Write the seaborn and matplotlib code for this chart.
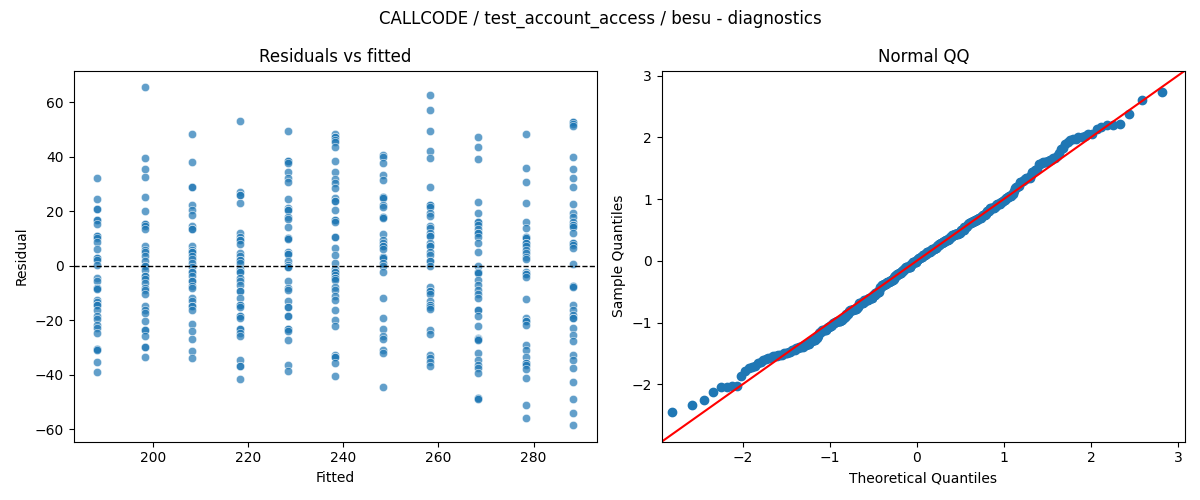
import statistics
import numpy as np
import pandas as pd
import seaborn as sns
import matplotlib
matplotlib.use("Agg")
import matplotlib.pyplot as plt

# fitted value of each group (one column of points per group)
fitted_levels = [188.3, 198.3, 208.3, 218.3, 228.3, 238.3, 248.3, 258.3, 268.3, 278.3, 288.3]

# residuals read per fitted group
res_188 = [32.1, 24.4, 20.7, 20.7, 16.8, 16.8, 15.4, 11.1, 11.1, 10.1, 8.7, 6.1, 2.8, 2.8, 2.2, 0.4,
           -4.5, -5.4, -8.2, -8.2, -8.5, -12.4, -13.3, -14.3, -14.3, -16.1, -18.5, -19.5, -21.6,
           -22.8, -24.6, -30.5, -30.5, -31.0, -35.2, -38.9]
res_198 = [65.4, 39.4, 35.4, 32.4, 25.1, 20.0, 15.4, 15.4, 14.6, 13.4, 7.1, 5.9, 4.9, 3.7, 1.6,
           -0.2, -0.2, -1.5, -3.9, -3.9, -4.9, -6.3, -8.2, -9.0, -10.2, -14.9, -16.1, -17.3,
           -20.4, -23.4, -23.4, -25.6, -29.9, -29.9, -33.4]
res_208 = [48.3, 37.9, 28.8, 28.8, 22.3, 20.5, 18.7, 14.6, 13.4, 13.4, 7.3, 5.9, 4.9, 4.9, 3.7,
           2.4, 1.0, -0.5, -2.1, -2.1, -3.9, -5.7, -5.7, -7.3, -8.2, -11.8, -13.0, -14.9, -14.9,
           -16.1, -21.2, -24.0, -26.8, -31.1, -33.8]
res_218 = [53.0, 27.2, 26.0, 26.0, 22.9, 12.0, 10.7, 9.5, 9.5, 8.0, 4.6, 3.7, 2.2, 2.2, 1.2,
           -1.2, -2.1, -2.1, -4.5, -5.7, -7.0, -9.4, -9.4, -11.8, -14.3, -14.3, -15.1, -18.5,
           -18.5, -19.1, -23.2, -23.2, -24.6, -25.6, -34.4, -36.8, -36.8, -41.5]
res_228 = [49.4, 38.4, 38.4, 37.8, 34.5, 32.1, 30.9, 24.4, 21.1, 20.5, 20.5, 18.0, 17.1, 14.4,
           10.1, 10.1, 9.8, 5.2, 4.4, 4.4, 1.6, 0.4, -0.5, -0.5, -5.4, -8.2, -8.8, -13.0, -15.1,
           -15.1, -18.5, -18.5, -23.2, -23.2, -24.0, -27.3, -36.2, -38.4]
res_238 = [48.3, 47.3, 47.3, 46.3, 45.5, 43.4, 38.4, 34.5, 31.7, 30.5, 28.4, 24.8, 23.9, 23.9,
           20.5, 16.8, 16.8, 15.9, 10.7, 10.7, 6.5, 4.0, 1.2, -1.2, -2.1, -2.1, -3.3, -4.5, -4.5,
           -5.1, -7.6, -8.8, -11.2, -12.4, -16.1, -19.8, -22.2, -32.6, -33.4, -33.4, -35.6, -40.5]
res_248 = [40.6, 39.8, 37.6, 33.3, 31.5, 25.4, 25.4, 24.8, 22.3, 21.5, 18.0, 18.0, 17.4, 11.7,
           9.3, 8.3, 7.1, 7.1, 6.1, 3.4, 3.4, 2.8, 1.2, -0.2, -2.1, -11.8, -19.1, -23.2, -25.9,
           -26.8, -30.7, -32.0, -44.4]
res_258 = [62.6, 57.1, 49.4, 42.1, 39.4, 29.0, 22.3, 22.3, 21.7, 19.3, 18.3, 14.6, 13.8, 12.0,
           11.0, 11.0, 8.3, 7.3, 7.3, 5.2, 4.0, 1.6, 1.6, -0.2, -7.6, -9.4, -9.4, -10.2, -13.0,
           -14.3, -14.3, -15.1, -15.9, -23.4, -25.0, -32.6, -33.8, -35.4, -36.8]
res_268 = [47.1, 43.7, 39.0, 23.5, 19.5, 15.9, 15.9, 15.0, 13.4, 12.0, 12.0, 10.7, 8.3, 5.2,
           -0.2, -2.1, -2.1, -2.7, -5.1, -7.0, -8.8, -10.2, -11.8, -16.1, -16.1, -18.3, -22.2,
           -26.5, -26.8, -26.8, -27.3, -32.0, -34.4, -36.2, -37.4, -39.3, -48.4, -48.4, -48.8]
res_278 = [48.5, 35.7, 30.6, 22.9, 16.2, 13.8, 10.7, 10.7, 10.1, 8.3, 8.3, 7.1, 5.9, 4.6, 3.4,
           2.4, -2.1, -2.9, -2.9, -4.1, -12.2, -19.1, -20.4, -20.4, -21.6, -28.9, -31.0, -33.4,
           -35.6, -35.6, -36.2, -38.0, -41.1, -50.9, -55.7]
res_288 = [52.8, 52.8, 52.0, 51.2, 40.0, 35.4, 32.1, 29.0, 22.6, 19.3, 18.0, 16.2, 15.0, 15.0,
           14.4, 12.0, 8.5, 8.5, 7.7, 6.5, 0.7, -7.3, -7.3, -7.6, -14.3, -16.1, -17.9, -19.1,
           -19.1, -22.8, -25.2, -27.7, -32.6, -34.4, -37.4, -42.6, -48.8, -53.9, -58.3]

groups = [res_188, res_198, res_208, res_218, res_228, res_238,
          res_248, res_258, res_268, res_278, res_288]

rows = []
for fv, res in zip(fitted_levels, groups):
    for r in res:
        rows.append({"fitted": fv, "resid": r})
df = pd.DataFrame(rows)

# QQ: standardized residuals vs normal quantiles (positions i/(n+1))
resid = df["resid"].to_numpy()
z = np.sort((resid - resid.mean()) / resid.std())
n = len(z)
nd = statistics.NormalDist()
theo = np.array([nd.inv_cdf(i / (n + 1)) for i in range(1, n + 1)])

fig, axes = plt.subplots(1, 2, figsize=(12, 5))

ax = axes[0]
sns.scatterplot(data=df, x="fitted", y="resid", ax=ax, alpha=0.7)
ax.axhline(0, color="black", linestyle="--", linewidth=1)
ax.set_title("Residuals vs fitted")
ax.set_xlabel("Fitted")
ax.set_ylabel("Residual")

ax = axes[1]
sns.scatterplot(x=theo, y=z, ax=ax, color="C0", edgecolor="C0", linewidth=1, s=36)
lims = [-2.93, 3.08]
ax.plot(lims, lims, color="red")
ax.set_xlim(lims)
ax.set_ylim(lims)
ax.set_title("Normal QQ")
ax.set_xlabel("Theoretical Quantiles")
ax.set_ylabel("Sample Quantiles")

fig.suptitle("CALLCODE / test_account_access / besu - diagnostics")
plt.tight_layout()
plt.savefig("out.png", dpi=100)
